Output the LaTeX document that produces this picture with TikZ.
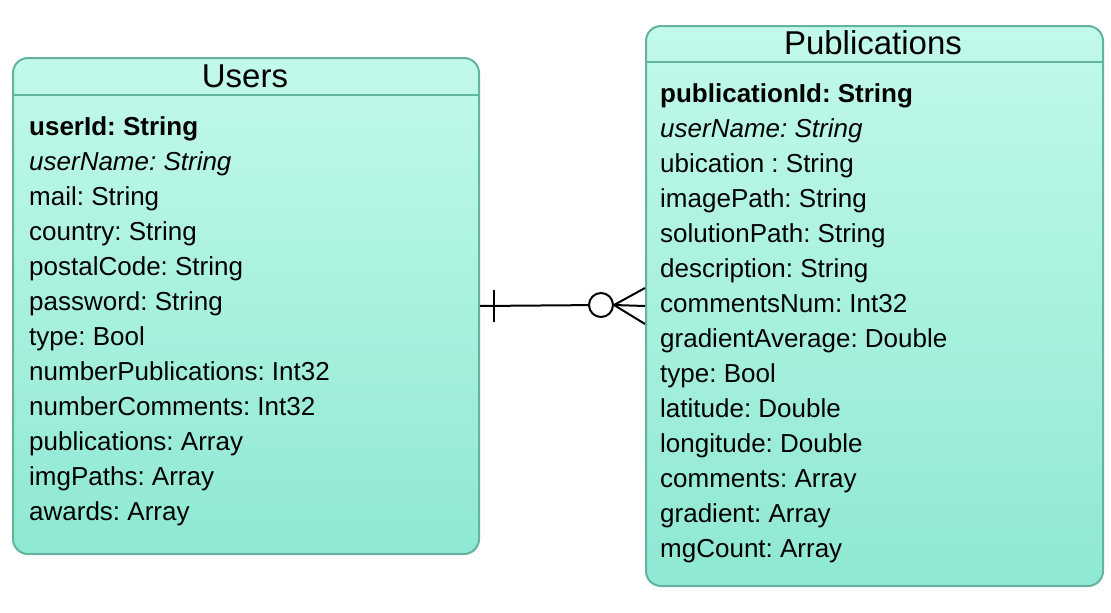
\documentclass[tikz,border=0pt]{standalone}
\usepackage{fontspec}
\setmainfont{Liberation Sans}
\usepackage{tikz}
\usepackage{xcolor}
\usetikzlibrary{positioning}

\definecolor{entitytop}{HTML}{C2F9EA}
\definecolor{entitybottom}{HTML}{8EE8D3}
\definecolor{entityline}{HTML}{64B39E}

\frenchspacing

\begin{document}
\begin{tikzpicture}[x=1pt, y=-1pt,
        entity/.style={rectangle, rounded corners=15pt, draw=entityline, line width=2pt, top color=entitytop, bottom color=entitybottom, anchor=north west},
        title/.style={font=\fontsize{33}{33}\selectfont},
        attr/.style={anchor=base west, inner sep=0pt, font=\fontsize{26}{26}\selectfont}
    ]
        \useasboundingbox (0,0) rectangle (1111,613);

        % Users
        \node[entity, minimum width=466pt, minimum height=496pt] (users) at (12,57) {};
        \draw[entityline, line width=2pt] (12,95) -- (478,95);
        \node[title] (userstitle) at (245,76) {Users};
        \foreach \i/\txt in {0/{\textbf{userId: String}}, 1/{\textit{userName: String}}, 2/{mail: String}, 3/{country: String}, 4/{postalCode: String}, 5/{password: String}, 6/{type: Bool}, 7/{numberPublications: Int32}, 8/{numberComments: Int32}, 9/{publications: Array}, 10/{imgPaths: Array}, 11/{awards: Array}}
            \node[attr] (u\i) at (29,135+35*\i) {\txt};

        % Publications
        \node[entity, minimum width=457pt, minimum height=560pt] (pubs) at (645,25) {};
        \draw[entityline, line width=2pt] (645,62) -- (1102,62);
        \node[title] (pubstitle) at (873,43) {Publications};
        \foreach \i/\txt in {0/{\textbf{publicationId: String}}, 1/{\textit{userName: String}}, 2/{ubication : String}, 3/{imagePath: String}, 4/{solutionPath: String}, 5/{description: String}, 6/{commentsNum: Int32}, 7/{gradientAverage: Double}, 8/{type: Bool}, 9/{latitude: Double}, 10/{longitude: Double}, 11/{comments: Array}, 12/{gradient: Array}, 13/{mgCount: Array}}
            \node[attr] (p\i) at (660,102+35*\i) {\txt};

        % Relation (one to zero or many)
        \coordinate (ring) at (601,305);
        \coordinate (footstart) at (614,305);
        \draw[line width=2pt] (users.east) -- (ring);
        \draw[line width=2pt] (users.east) ++(14,-16) -- ++(0,32);
        \draw[line width=2pt, fill=white] (ring) circle (12pt);
        \draw[line width=2pt] (footstart) -- (pubs.west);
        \draw[line width=2pt] (footstart) -- ([yshift=-18pt]pubs.west);
        \draw[line width=2pt] (footstart) -- ([yshift=18pt]pubs.west);
    \end{tikzpicture}
\end{document}
